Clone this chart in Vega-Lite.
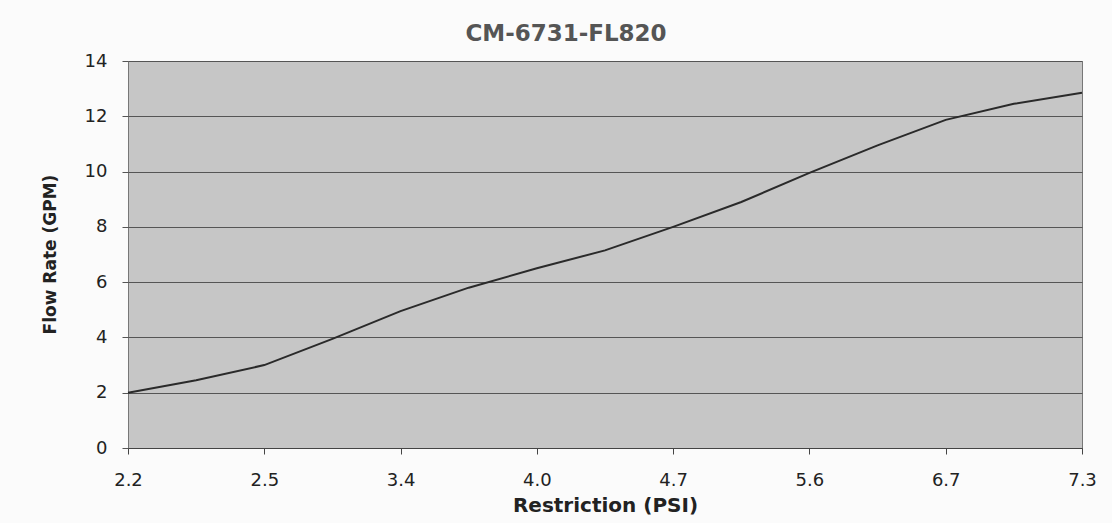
{
  "$schema": "https://vega.github.io/schema/vega-lite/v6.json",
  "autosize": "none",
  "width": 954,
  "height": 387,
  "padding": {"left": 128, "top": 61, "right": 30, "bottom": 75},
  "background": "#fbfbfb",
  "title": {
    "text": "CM-6731-FL820",
    "font": "DejaVu Sans",
    "fontSize": 23,
    "fontWeight": "bold",
    "color": "#555555",
    "baseline": "alphabetic",
    "offset": 21,
    "dx": -39,
    "dy": 33
  },
  "data": {
    "values": [
      {"psi": "2.2", "gpm": 2.0},
      {"psi": "2.3", "gpm": 2.45},
      {"psi": "2.5", "gpm": 3.0},
      {"psi": "3.0", "gpm": 3.95},
      {"psi": "3.4", "gpm": 4.95},
      {"psi": "3.7", "gpm": 5.8},
      {"psi": "4.0", "gpm": 6.5},
      {"psi": "4.3", "gpm": 7.15},
      {"psi": "4.7", "gpm": 8.0},
      {"psi": "5.1", "gpm": 8.9},
      {"psi": "5.6", "gpm": 9.95},
      {"psi": "6.1", "gpm": 10.95},
      {"psi": "6.7", "gpm": 11.87},
      {"psi": "7.0", "gpm": 12.45},
      {"psi": "7.3", "gpm": 12.85}
    ]
  },
  "mark": {"type": "line", "color": "#2a2a2a", "strokeWidth": 2},
  "encoding": {
    "x": {
      "field": "psi",
      "type": "ordinal",
      "sort": null,
      "scale": {"type": "point", "padding": 0},
      "axis": {
        "title": "Restriction (PSI)",
        "values": ["2.2", "2.5", "3.4", "4.0", "4.7", "5.6", "6.7", "7.3"],
        "labelAngle": 0,
        "labelFont": "DejaVu Sans",
        "labelFontSize": 18,
        "labelColor": "#222222",
        "labelPadding": 17,
        "tickSize": 6,
        "tickColor": "#444444",
        "domainColor": "#444444",
        "grid": false,
        "titleFont": "DejaVu Sans",
        "titleFontSize": 20,
        "titleFontWeight": "bold",
        "titleColor": "#222222",
        "titleBaseline": "alphabetic",
        "titleY": 63
      }
    },
    "y": {
      "field": "gpm",
      "type": "quantitative",
      "scale": {"domain": [0, 14], "nice": false},
      "axis": {
        "title": "Flow Rate (GPM)",
        "values": [0, 2, 4, 6, 8, 10, 12, 14],
        "labelFont": "DejaVu Sans",
        "labelFontSize": 18,
        "labelColor": "#222222",
        "labelPadding": 15,
        "tickSize": 6,
        "tickColor": "#555555",
        "domain": false,
        "grid": true,
        "gridColor": "#555555",
        "gridWidth": 1,
        "titleFont": "DejaVu Sans",
        "titleFontSize": 17,
        "titleFontWeight": "bold",
        "titleColor": "#222222",
        "titleAngle": -90,
        "titleBaseline": "alphabetic",
        "titleAlign": "center",
        "titleX": -73,
        "titleY": 193
      }
    }
  },
  "config": {
    "view": {"stroke": "#777777", "fill": "#c6c6c6"}
  }
}
